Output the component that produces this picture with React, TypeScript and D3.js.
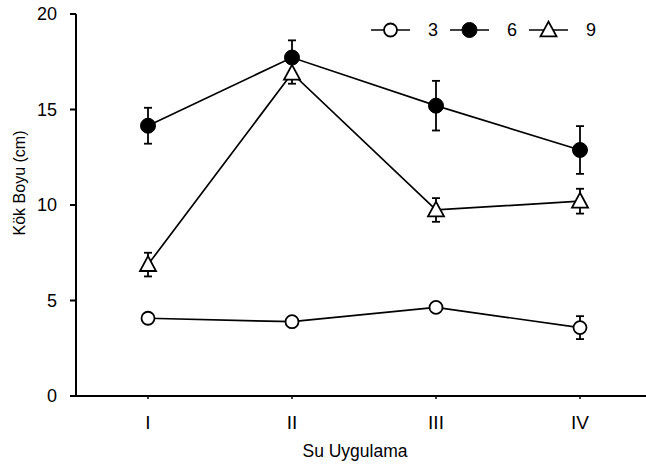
import React from 'react';
import * as d3 from 'd3';

const categories = ['I', 'II', 'III', 'IV'];
const yTicks = [0, 5, 10, 15, 20];

const series3 = [4.07, 3.89, 4.64, 3.58];
const err3 = [0.2, 0.2, 0.2, 0.6];
const series6 = [14.15, 17.72, 15.2, 12.88];
const err6 = [0.94, 0.9, 1.3, 1.25];
const series9 = [6.88, 16.9, 9.74, 10.2];
const err9 = [0.62, 0.55, 0.62, 0.65];

const width = 646;
const height = 467;
const font = 'Arial, "Liberation Sans", sans-serif';

const x = d3.scalePoint<string>().domain(categories).range([76, 652]).padding(0.5);
const y = d3.scaleLinear().domain([0, 20]).range([396, 14]);

const triPath = (cx: number, cy: number, s = 8) =>
  `M${cx},${cy - s * 1.05}L${cx + s},${cy + s * 0.8}L${cx - s},${cy + s * 0.8}Z`;

type Kind = 'open' | 'filled' | 'tri';

const Marker = ({ kind, cx, cy }: { kind: Kind; cx: number; cy: number }) => {
  if (kind === 'tri') return <path d={triPath(cx, cy)} fill="#fff" stroke="#000" strokeWidth={1.8} />;
  if (kind === 'filled') return <circle cx={cx} cy={cy} r={7.5} fill="#000" stroke="#000" strokeWidth={1} />;
  return <circle cx={cx} cy={cy} r={6.5} fill="#fff" stroke="#000" strokeWidth={1.8} />;
};

const line = d3.line<number>().x((_, i) => x(categories[i])!).y(d => y(d));

const allSeries: { vals: number[]; err: number[]; kind: Kind; name: string }[] = [
  { vals: series3, err: err3, kind: 'open', name: '3' },
  { vals: series9, err: err9, kind: 'tri', name: '9' },
  { vals: series6, err: err6, kind: 'filled', name: '6' },
];

const legendItems: { kind: Kind; name: string }[] = [
  { kind: 'open', name: '3' },
  { kind: 'filled', name: '6' },
  { kind: 'tri', name: '9' },
];

export default function App() {
  return (
    <svg width={width} height={height} style={{ display: 'block', position: 'absolute', left: 0, top: 0 }}>
      <rect width={width} height={height} fill="#fff" />
      {/* lines */}
      {allSeries.map(s => (
        <path key={'l' + s.name} d={line(s.vals)!} fill="none" stroke="#000" strokeWidth={1.7} />
      ))}
      {/* error bars */}
      {allSeries.map(s =>
        s.vals.map((v, i) => {
          const cx = x(categories[i])!;
          const y1 = y(v + s.err[i]);
          const y2 = y(v - s.err[i]);
          return (
            <g key={'e' + s.name + i} stroke="#000" strokeWidth={1.8}>
              <line x1={cx} x2={cx} y1={y1} y2={y2} />
              <line x1={cx - 4} x2={cx + 4} y1={y1} y2={y1} />
              <line x1={cx - 4} x2={cx + 4} y1={y2} y2={y2} />
            </g>
          );
        })
      )}
      {/* markers */}
      {allSeries.map(s =>
        s.vals.map((v, i) => <Marker key={'m' + s.name + i} kind={s.kind} cx={x(categories[i])!} cy={y(v)} />)
      )}
      {/* y axis */}
      <line x1={76} x2={76} y1={y(20)} y2={y(0)} stroke="#000" strokeWidth={2} />
      {yTicks.map(t => (
        <g key={'yt' + t}>
          <line x1={70} x2={76} y1={y(t)} y2={y(t)} stroke="#000" strokeWidth={2} />
          <text x={57} y={y(t)} dy="0.36em" textAnchor="end" fontFamily={font} fontSize={18}>
            {t}
          </text>
        </g>
      ))}
      {/* x axis */}
      <line x1={70} x2={width} y1={y(0)} y2={y(0)} stroke="#000" strokeWidth={2} />
      {categories.map(c => (
        <g key={'xt' + c}>
          <line x1={x(c)!} x2={x(c)!} y1={y(0)} y2={y(0) + 3} stroke="#000" strokeWidth={1.5} />
          <text x={x(c)!} y={429} textAnchor="middle" fontFamily={font} fontSize={19}>
            {c}
          </text>
        </g>
      ))}
      <text x={355} y={457} textAnchor="middle" fontFamily={font} fontSize={17.5}>
        Su Uygulama
      </text>
      <text
        transform={`translate(25,183) rotate(-90)`}
        textAnchor="middle"
        fontFamily={font}
        fontSize={16}
      >
        Kök Boyu (cm)
      </text>
      {/* legend */}
      {legendItems.map((it, i) => {
        const lx = 371 + i * 79;
        return (
          <g key={'lg' + it.name}>
            <line x1={lx} x2={lx + 39} y1={30} y2={30} stroke="#000" strokeWidth={1.7} />
            <Marker kind={it.kind} cx={lx + 19.5} cy={30} />
            <text x={lx + 57} y={30} dy="0.36em" fontFamily={font} fontSize={18}>
              {it.name}
            </text>
          </g>
        );
      })}
    </svg>
  );
}
